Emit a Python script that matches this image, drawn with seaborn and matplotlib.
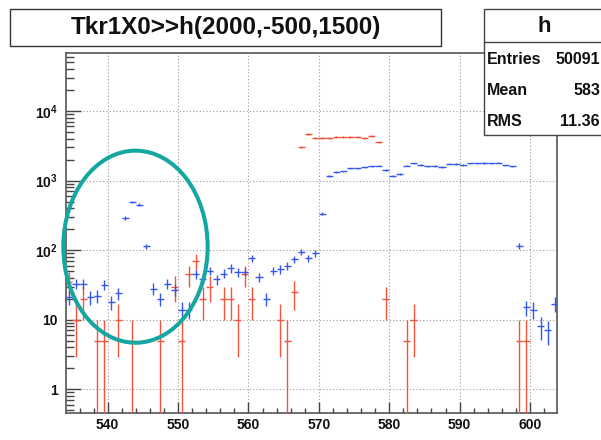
import numpy as np
import pandas as pd
import matplotlib
matplotlib.use("Agg")
import matplotlib.pyplot as plt
import seaborn as sns
from matplotlib.patches import Rectangle, Ellipse
from matplotlib.ticker import FixedLocator, FuncFormatter, LogLocator, NullFormatter

# ---------------- data (1-unit bins starting at bin_start) ----------------
bin_start = 534
blue_counts = [21, 33, 33, 21, 22, 32, 18, 24, 288, 495,
               453, 113, 28, 20, 33, 27, 14, 14, 45, 39,
               51, 38, 46, 55, 48, 49, 77, 41, 20, 51,
               53, 60, 74, 95, 76, 90, 335, 1153, 1331, 1360,
               1503, 1503, 1553, 1606, 1642, 1407, 1178, 1245, 1642, 1773,
               1678, 1606, 1623, 1570, 1754, 1734, 1678, 1773, 1773, 1793,
               1773, 1813, 1659, 1606, 114, 15, 14, 8, 7, 17]
red_counts = [35, 10, 20, 0, 5, 5, 0, 10, 0, 5,
              0, 0, 0, 5, 0, 30, 5, 45, 70, 20,
              30, 0, 20, 20, 10, 45, 20, 0, 0, 0,
              10, 5, 25, 3055, 4700, 4115, 4115, 4115, 4190, 4255,
              4255, 4255, 4115, 4400, 3553, 20, 0, 0, 5, 10,
              0, 0, 0, 0, 0, 0, 0, 0, 0, 0,
              0, 0, 0, 0, 5, 5, 0, 0, 0, 0]
red_weight = 5  # each red entry carries weight 5

title_text = "Tkr1X0>>h(2000,-500,1500)"
stats_name = "h"
stats_rows = [("Entries", "50091"), ("Mean", "583"), ("RMS", "11.36")]
x_major = [540, 550, 560, 570, 580, 590, 600]

# ---------------- style ----------------
sns.set_theme(style="white")
plt.rcParams['font.family'] = ['Liberation Sans', 'DejaVu Sans']
plt.rcParams['font.weight'] = 'bold'
plt.rcParams['mathtext.fontset'] = 'custom'
plt.rcParams['mathtext.rm'] = 'Liberation Sans:bold'
plt.rcParams['mathtext.bf'] = 'Liberation Sans:bold'
plt.rcParams['mathtext.it'] = 'Liberation Sans:bold:italic'

W, H = 601, 440
fig = plt.figure(figsize=(W / 100, H / 100), dpi=100)
fig.patch.set_facecolor('white')

def fx(px):
    return px / W

def fy(py):
    return 1 - py / H

ax_l, ax_r, ax_t, ax_b = 66, 557, 53, 412.7
ax = fig.add_axes([fx(ax_l), fy(ax_b), (ax_r - ax_l) / W, (ax_b - ax_t) / H])
ax.set_facecolor('white')

bins = np.arange(bin_start, bin_start + len(blue_counts))
df = pd.DataFrame({"low": bins, "blue": blue_counts, "red": red_counts})
df["center"] = df["low"] + 0.5

red_col = '#f2553c'
blue_col = '#3558ec'

# red histogram (weighted)
r = df[df["red"] > 0]
rerr = np.sqrt(r["red"].to_numpy() * red_weight)
rlow = np.minimum(rerr, r["red"].to_numpy() * 0.99999)
ax.errorbar(r["center"], r["red"], xerr=0.5, yerr=[rlow, rerr], fmt='none',
            ecolor=red_col, elinewidth=1.0, capsize=0, zorder=3)

# blue histogram
b = df[df["blue"] > 0]
berr = np.sqrt(b["blue"].to_numpy())
blow = np.minimum(berr, b["blue"].to_numpy() * 0.99999)
ax.errorbar(b["center"], b["blue"], xerr=0.5, yerr=[blow, berr], fmt='none',
            ecolor=blue_col, elinewidth=1.0, capsize=0, zorder=4)

ax.set_yscale('log')
ax.set_xlim(534.08, 603.84)
ax.set_ylim(0.4606, 68300)

# ticks
ax.xaxis.set_major_locator(FixedLocator(x_major))
ax.xaxis.set_minor_locator(FixedLocator(list(range(536, 604, 2))))
ax.yaxis.set_major_locator(LogLocator(base=10, numticks=10))
ax.yaxis.set_minor_locator(LogLocator(base=10, subs=np.arange(2, 10), numticks=20))
ax.yaxis.set_minor_formatter(NullFormatter())

def yfmt(v, pos):
    e = int(round(np.log10(v)))
    if e == 0:
        return "1"
    if e == 1:
        return "10"
    return r"$10^{%d}$" % e

ax.yaxis.set_major_formatter(FuncFormatter(yfmt))

ax.tick_params(axis='x', which='major', direction='in', length=8, width=1.0,
               color='#444444', labelsize=10, pad=4, bottom=True, top=False)
ax.tick_params(axis='x', which='minor', direction='in', length=3.8, width=1.0,
               color='#444444', bottom=True, top=False)
ax.tick_params(axis='y', which='major', direction='in', length=11, width=1.0,
               color='#444444', labelsize=10, pad=6, left=True, right=False)
ax.tick_params(axis='y', which='minor', direction='in', length=5.5, width=1.0,
               color='#444444', left=True, right=False)
for lab in ax.get_xticklabels() + ax.get_yticklabels():
    lab.set_fontweight('bold')
    lab.set_color('#111111')

ax.grid(True, which='major', axis='both', color='#999999', linestyle=(0, (1, 2)),
        linewidth=0.8, zorder=0)
ax.set_axisbelow(True)
for s in ax.spines.values():
    s.set_color('#555555')
    s.set_linewidth(1.2)
    s.set_visible(True)
ax.set_xlabel('')
ax.set_ylabel('')

# annotation ellipse (in axes fraction)
ell = Ellipse((0.1415, 0.4615), 0.294, 0.534, transform=ax.transAxes,
              fill=False, edgecolor='#14a6a0', linewidth=2.9, clip_on=False, zorder=6)
ax.add_patch(ell)

# title box
fig.patches.append(Rectangle((fx(10), fy(46)), (441 - 10) / W, (46 - 9) / H,
                             transform=fig.transFigure, facecolor='white',
                             edgecolor='#333333', linewidth=1.0, zorder=10))
fig.text(fx(225.5), fy(27.5), title_text, ha='center', va='center',
         fontsize=17.5, fontweight='bold', color='#111111', zorder=11)

# stats box
fig.patches.append(Rectangle((fx(484), fy(135)), (610 - 484) / W, (135 - 9) / H,
                             transform=fig.transFigure, facecolor='white',
                             edgecolor='#444444', linewidth=1.0, zorder=10))
fig.lines.append(plt.Line2D([fx(484), fx(601)], [fy(42), fy(42)],
                            transform=fig.transFigure, color='#444444',
                            linewidth=1.0, zorder=11))
fig.text(fx(544), fy(26), stats_name, ha='center', va='center',
         fontsize=16, fontweight='bold', color='#111111', zorder=12)
row_y = [60, 90, 121]
for (lab, val), yy in zip(stats_rows, row_y):
    fig.text(fx(487), fy(yy), lab, ha='left', va='center', fontsize=11.5,
             fontweight='bold', color='#111111', zorder=12)
    fig.text(fx(600), fy(yy), val, ha='right', va='center', fontsize=11.5,
             fontweight='bold', color='#111111', zorder=12)

fig.savefig('out.png', dpi=100, facecolor='white')
